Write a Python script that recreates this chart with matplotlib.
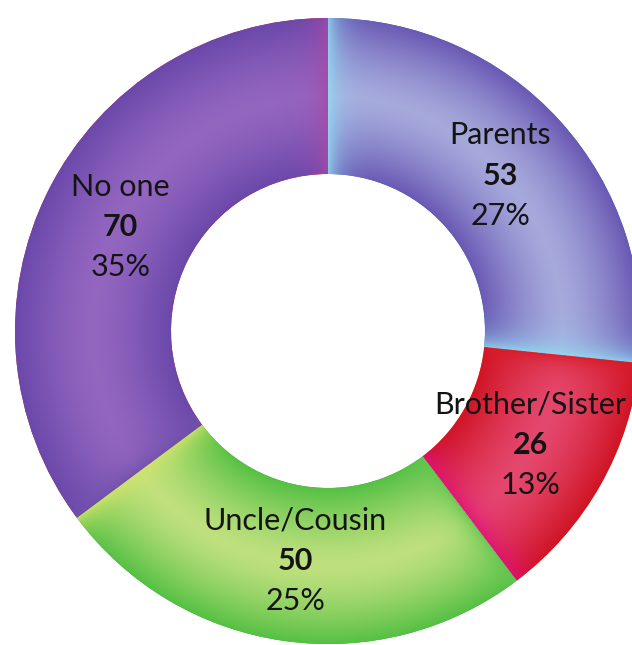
import numpy as np
import matplotlib.pyplot as plt
from matplotlib.colors import to_rgb

# Dados do gráfico
categorias = ['Parents', 'Brother/Sister', 'Uncle/Cousin', 'No one']
valores = [53, 26, 50, 70]

# cores: meio do anel, bordas do anel, início (horário) e fim (horário)
cor_meio = ['#a6a9dc', '#e5486e', '#bfe07e', '#9366c0']
cor_borda = ['#6a58b4', '#cf1424', '#55c044', '#6a48aa']
cor_inicio = ['#92dcf2', '#d81a26', '#62c650', '#7050ac']
cor_fim = ['#92dcf2', '#e0107c', '#d4e46c', '#a848a8']

W, H = 632, 645
cx, cy = 328, H - 331
r_out, r_in = 313, 157

fig = plt.figure(figsize=(W / 100, H / 100), dpi=100)
ax = fig.add_axes([0, 0, 1, 1])

wedges, _ = ax.pie(valores, center=(cx, cy), radius=r_out, startangle=90,
                   counterclock=False, wedgeprops=dict(width=r_out - r_in, linewidth=0))

# grade de pixels para o degradê
xx, yy = np.meshgrid(np.arange(W) + 0.5, np.arange(H) + 0.5)
dx, dy = xx - cx, yy - cy
rr = np.hypot(dx, dy)
phi = np.degrees(np.arctan2(dy, dx)) % 360
s = np.clip((rr - r_in) / (r_out - r_in), 0, 1)
t = np.clip(np.abs(2 * s - 1), 0, 1) ** 1.4

for i, w in enumerate(wedges):
    m, e = np.array(to_rgb(cor_meio[i])), np.array(to_rgb(cor_borda[i]))
    base = m * (1 - t[..., None]) + e * t[..., None]
    span = (w.theta2 - w.theta1) % 360
    a = (phi - w.theta1) % 360
    a = np.where(a > span, np.nan, a)
    d_fim = np.radians(a) * rr          # lado theta1 = fim no sentido horário
    d_ini = np.radians(span - a) * rr   # lado theta2 = início
    w_fim = np.nan_to_num(np.exp(-d_fim / 14)) * 0.85
    w_ini = np.nan_to_num(np.exp(-d_ini / 14)) * 0.85
    col = base * (1 - w_fim[..., None]) + np.array(to_rgb(cor_fim[i])) * w_fim[..., None]
    col = col * (1 - w_ini[..., None]) + np.array(to_rgb(cor_inicio[i])) * w_ini[..., None]
    im = ax.imshow(col, extent=(0, W, 0, H), origin='lower', interpolation='bilinear', zorder=2)
    im.set_clip_path(w)

# rótulos
total = sum(valores)
r_lab = (r_out + r_in) / 2 - 3
for w, nome, v in zip(wedges, categorias, valores):
    ang = np.radians((w.theta1 + w.theta2) / 2)
    x, y = cx + r_lab * np.cos(ang), cy + r_lab * np.sin(ang)
    kw = dict(ha='center', va='center', fontsize=22, family='Lato', color='#141414', zorder=5)
    ax.annotate(nome, (x, y), xytext=(0, 29), textcoords='offset points', **kw)
    ax.annotate(str(v), (x, y), xytext=(0, 0), textcoords='offset points', fontweight='bold', **kw)
    ax.annotate('{:.0f}%'.format(v / total * 100), (x, y), xytext=(0, -29),
                textcoords='offset points', **kw)

ax.set_xlim(0, W)
ax.set_ylim(0, H)
ax.set_aspect('equal')
ax.axis('off')

plt.savefig('out.png', dpi=100)
